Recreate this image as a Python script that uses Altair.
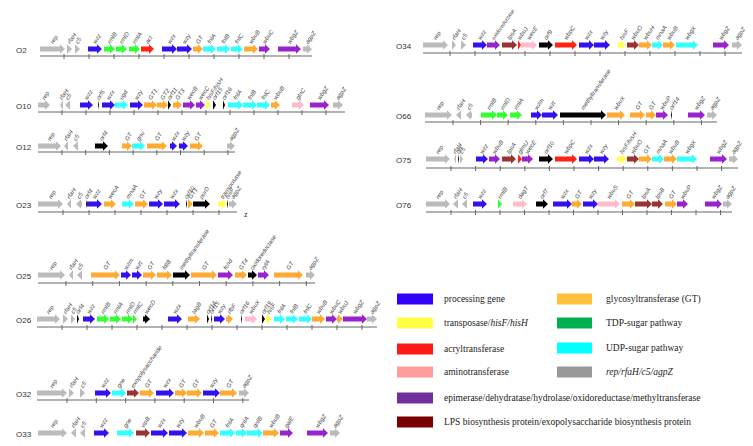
import altair as alt
import pandas as pd
import numpy as np

# ---- rows: name, arrow centre y, axis y, axis start, axis end, first tick, tick step
ROW_NAMES = ["O2", "O10", "O12", "O23", "O25", "O26", "O32", "O33", "O34", "O66", "O75", "O76"]
ROW_Y = [49, 105, 146, 204, 275, 319, 393, 433, 45, 115, 159, 204]
AXIS_Y = [56, 112, 152, 212, 283, 327, 400, 441, 53, 122, 168, 212]
AXIS_X0 = [40, 38, 38, 38, 38, 37, 37, 38, 423, 425, 426, 426]
AXIS_X1 = [312, 345, 235, 237, 315, 377, 249, 340, 742, 717, 738, 732]
TICK0 = [64, 62, 62, 63, 66, 62, 67, 67, 450, 453, 451, 451]
TICK_STEP = [25, 24, 23.7, 26, 26.7, 25, 29.3, 28.3, 25, 27.6, 24.6, 24.5]

# ---- genes: (start, end, strand, category, name)
GENES_O2 = [(40, 65, 1, "S", "rep"), (67, 72, 1, "S", "rfaH"), (75, 80, 1, "S", "c5"),
            (88, 102, 1, "B", "wzz"), (104, 115, 1, "G", "rmlB"), (116, 127, 1, "G", "rmlD"),
            (129, 140, 1, "G", "rmlA"), (141, 154, 1, "R", "act"), (162, 177, 1, "B", "wzx"),
            (177, 192, 1, "B", "wzy"), (193, 203, 1, "O", "GT"), (203, 216, 1, "C", "fnlA"),
            (217, 230, 1, "C", "fnlB"), (231, 243, 1, "C", "fnlC"), (244, 258, 1, "O", "wbuB"),
            (259, 270, 1, "P", "wbuC"), (278, 301, 1, "P", "wbgZ"), (303, 312, 1, "S", "agpZ")]
GENES_O10 = [(38, 50, 1, "S", "rep"), (60, 63, -1, "S", "rfaH"), (65, 70, -1, "S", "c5"),
             (80, 93, 1, "B", "wzz"), (98, 99, 1, "K", "orf5"), (102, 115, 1, "B", "wzx"),
             (115, 128, 1, "C", "ugd"), (130, 143, 1, "B", "wzy"), (144, 157, 1, "O", "GT1"),
             (157, 168, 1, "O", "GT2"), (168, 171, 1, "K", "orf11"), (173, 182, 1, "O", "GT3"),
             (183, 195, 1, "P", "wecB"), (196, 205, 1, "P", "wecC"), (206, 211, 1, "Y", "hisF/hisH"),
             (213, 216, 1, "K", "orf15"), (223, 225, 1, "K", "orf16"), (228, 243, 1, "C", "fnlA"),
             (243, 257, 1, "C", "fnlB"), (257, 270, 1, "C", "fnlC"), (271, 280, 1, "O", "wbuB"),
             (292, 304, 1, "N", "glnC"), (310, 329, 1, "P", "wbgZ"), (333, 343, 1, "S", "agpZ")]
GENES_O12 = [(38, 61, 1, "S", "rep"), (64, 68, -1, "S", "rfaH"), (73, 78, -1, "S", "c5"),
             (95, 108, 1, "K", "orf4"), (122, 132, 1, "O", "GT"), (132, 145, 1, "C", "gnu"),
             (147, 167, 1, "O", "GT"), (170, 177, 1, "B", "wzx"), (179, 188, 1, "B", "wzy"),
             (190, 203, 1, "O", "GT"), (227, 235, 1, "S", "agpZ")]
GENES_O23 = [(38, 63, 1, "S", "rep"), (67, 71, -1, "S", "rfaH"), (76, 82, -1, "S", "c5"),
             (86, 87, 1, "K", "orf4"), (87, 102, 1, "B", "wzz"), (104, 116, 1, "O", "wecA"),
             (122, 134, 1, "C", "mnaA"), (135, 148, 1, "O", "GT"), (149, 163, 1, "B", "wzy"),
             (164, 180, 1, "B", "wzx"), (186, 187, 1, "K", "orf10"), (188, 193, 1, "O", "GT1"),
             (193, 210, 1, "K", "purD"), (218, 227, 1, "Y", "transposase"), (227, 228, 1, "K", "hisF"),
             (229, 237, 1, "S", "agpZ")]
GENES_O25 = [(38, 65, 1, "S", "rep"), (69, 73, -1, "S", "rfaH"), (77, 82, -1, "S", "c5"),
             (91, 120, 1, "O", "GT"), (121, 131, 1, "B", "wzm"), (132, 142, 1, "B", "wzt"),
             (143, 156, 1, "O", "GT"), (157, 172, 1, "O", "fdtB"), (173, 190, 1, "K", "methyltransferase"),
             (191, 217, 1, "O", "GT"), (218, 233, 1, "P", "fcnd"), (235, 247, 1, "O", "GT4"),
             (248, 257, 1, "K", "oxidoreductase"), (258, 269, 1, "P", "rylA"), (274, 303, 1, "O", "GT"),
             (306, 315, 1, "S", "agpZ")]
GENES_O26 = [(37, 60, 1, "S", "rep"), (63, 68, 1, "S", "rfaH"), (71, 75, 1, "S", "c5"),
             (77, 79, 1, "K", "orf4"), (83, 95, 1, "B", "wzz"), (97, 109, 1, "G", "rmlB"),
             (110, 121, 1, "G", "rmlA"), (122, 133, 1, "G", "rmlD"), (133, 137, 1, "G", "rmlC"),
             (143, 150, 1, "K", "wecD"), (168, 182, 1, "B", "wzx"), (188, 200, 1, "O", "tagB"),
             (207, 209, 1, "K", "orf14"), (211, 212, 1, "K", "orf15"), (214, 225, 1, "B", "wzy"),
             (226, 233, 1, "O", "rfbF"), (241, 242, 1, "K", "orf16"), (245, 257, 1, "N", "wbuX"),
             (262, 265, 1, "K", "orf19"), (266, 272, 1, "Y", "hisF"), (274, 285, 1, "C", "fnlA"),
             (286, 298, 1, "C", "fnlB"), (299, 312, 1, "C", "fnlC"), (312, 325, 1, "O", "wbuB"),
             (326, 337, 1, "P", "wbuC"), (337, 343, 1, "O", "wbuJ"), (343, 367, 1, "P", "wbgZ"),
             (367, 377, 1, "S", "agpZ")]
GENES_O32 = [(37, 67, 1, "S", "rep"), (69, 74, 1, "S", "rfaH"), (80, 85, 1, "S", "c5"),
             (95, 111, 1, "B", "wzz"), (112, 126, 1, "C", "gne"), (127, 139, 1, "W", "exopolysaccharide"),
             (140, 154, 1, "O", "GT"), (156, 174, 1, "B", "wzx"), (175, 187, 1, "O", "GT"),
             (187, 202, 1, "O", "GT"), (203, 220, 1, "B", "wzy"), (220, 237, 1, "O", "GT"),
             (239, 249, 1, "S", "agpZ")]
GENES_O33 = [(38, 67, 1, "S", "rep"), (71, 76, -1, "S", "rfaH"), (80, 85, -1, "S", "c5"),
             (94, 109, 1, "B", "wzz"), (117, 134, 1, "C", "gne"), (136, 150, 1, "W", "vipB"),
             (151, 168, 1, "B", "wzx"), (169, 187, 1, "B", "wzy"), (188, 204, 1, "O", "wbuB"),
             (205, 219, 1, "O", "GT"), (220, 235, 1, "C", "fnlA"), (236, 247, 1, "C", "qnlA"),
             (247, 263, 1, "C", "qnlB"), (263, 279, 1, "O", "wbuB"), (280, 293, 1, "P", "galE"),
             (307, 328, 1, "P", "wbgZ"), (330, 340, 1, "S", "agpZ")]
GENES_O34 = [(423, 448, 1, "S", "rep"), (452, 456, 1, "S", "rfaH"), (461, 466, 1, "S", "c5"),
             (473, 487, 1, "B", "wzz"), (487, 500, 1, "P", "oxidoreductase"), (502, 517, 1, "W", "lpsA"),
             (518, 521, 1, "R", "wbuJ"), (521, 537, 1, "N", "wecE"), (539, 553, 1, "K", "orf9"),
             (555, 577, 1, "R", "wbpC"), (579, 594, 1, "B", "wzx"), (594, 610, 1, "B", "wzy"),
             (618, 626, 1, "Y", "hisF"), (627, 639, 1, "W", "wbuO"), (639, 652, 1, "O", "wbuH"),
             (652, 663, 1, "C", "mnaA"), (663, 675, 1, "O", "wbuB"), (676, 698, 1, "C", "wbgX"),
             (713, 729, 1, "P", "wbgZ"), (732, 742, 1, "S", "agpZ")]
GENES_O66 = [(425, 452, 1, "S", "rep"), (456, 461, -1, "S", "rfaH"), (466, 472, -1, "S", "c5"),
             (481, 497, 1, "G", "rmlB"), (497, 508, 1, "G", "rmlD"), (510, 522, 1, "G", "rmlA"),
             (531, 542, 1, "B", "wzm"), (542, 558, 1, "B", "wzt"), (560, 606, 1, "K", "methyltransferase"),
             (607, 625, 1, "O", "wbuX"), (630, 645, 1, "O", "GT"), (646, 656, 1, "O", "GT"),
             (656, 668, 1, "P", "wbuP"), (671, 672, 1, "K", "orf14"), (688, 705, 1, "P", "wbgZ"),
             (707, 717, 1, "S", "agpZ")]
GENES_O75 = [(426, 450, 1, "S", "rep"), (454, 456, -1, "S", "rfaH"), (458, 459, 1, "K", "orf"),
             (460, 463, 1, "S", "c5"), (476, 488, 1, "B", "wzz"), (489, 500, 1, "P", "wbuB"),
             (502, 516, 1, "W", "lpsA"), (518, 522, 1, "R", "glmU"), (522, 533, 1, "P", "wecE"),
             (539, 553, 1, "K", "orf10"), (555, 577, 1, "R", "wbpC"), (579, 594, 1, "B", "wzx"),
             (594, 609, 1, "B", "wzy"), (617, 627, 1, "Y", "hisF/hisH"), (627, 639, 1, "W", "wbuO"),
             (639, 652, 1, "O", "GT"), (652, 664, 1, "C", "mnaA"), (664, 677, 1, "O", "wbuB"),
             (677, 697, 1, "C", "wbgX"), (710, 727, 1, "P", "wbgZ"), (729, 738, 1, "S", "agpZ")]
GENES_O76 = [(426, 450, 1, "S", "rep"), (453, 458, -1, "S", "rfaH"), (462, 467, -1, "S", "c5"),
             (473, 487, 1, "B", "wzz"), (498, 502, 1, "G", "rmlB"), (513, 527, 1, "N", "dagT"),
             (536, 548, 1, "K", "orf7"), (553, 572, 1, "B", "wzx"), (572, 582, 1, "O", "GT"),
             (583, 598, 1, "B", "wzy"), (598, 620, 1, "N", "wbuS"), (622, 635, 1, "O", "GT"),
             (635, 652, 1, "W", "lpsA"), (652, 663, 1, "W", "lpsB"), (665, 677, 1, "O", "GT"),
             (677, 688, 1, "P", "wbuP"), (705, 722, 1, "P", "wbgZ"), (723, 732, 1, "S", "agpZ")]

ALL_GENES = [GENES_O2, GENES_O10, GENES_O12, GENES_O23, GENES_O25, GENES_O26, GENES_O32,
             GENES_O33, GENES_O34, GENES_O66, GENES_O75, GENES_O76]

ARROW_COLORS = {"B": "#3311ee", "G": "#33ff33", "R": "#ff2211", "O": "#ffaa33", "C": "#33ffff",
                "P": "#9922cc", "K": "#000000", "W": "#993333", "N": "#ffbbcc", "Y": "#ffff55",
                "S": "#bbbbbb"}

# ---- legend
LEG_LEFT = ["processing gene", "transposase/", "acryltransferase", "aminotransferase",
            "epimerase/dehydratase/hydrolase/oxidoreductase/methyltransferase",
            "LPS biosynthesis protein/exopolysaccharide biosynthesis protein"]
LEG_LEFT_COLORS = ["#3300ff", "#ffff44", "#ff1a1a", "#ff9c9c", "#7030a0", "#7a0000"]
LEG_RIGHT = ["glycosyltransferase (GT)", "TDP-sugar pathway", "UDP-sugar pathway", "rep/rfaH/c5/agpZ"]
LEG_RIGHT_COLORS = ["#ffc13b", "#00b050", "#00ffff", "#999999"]
LEG_LEFT_Y = [299, 323, 349, 372, 398, 422]
LEG_RIGHT_Y = [299, 323, 348, 372]

# ---------------- build tables ----------------
poly = []
labels = []
for ri, genes in enumerate(ALL_GENES):
    yc = ROW_Y[ri]
    for gi, (s, e, strand, cat, name) in enumerate(genes):
        gid = "g%d_%d" % (ri, gi)
        L = e - s
        h = min(5.0, L)
        sh, hh = 2.4, 4.8
        col = ARROW_COLORS[cat]
        if strand > 0:
            pts = []
            if L > h:
                pts += [(s, -sh, sh), (e - h, -sh, sh)]
                pts += [(e - h + 0.001, -hh, hh), (e, 0, 0)]
            else:
                pts += [(s, -hh, hh), (e, 0, 0)]
        else:
            pts = [(s, 0, 0), (s + h, -hh, hh)]
            if L > h:
                pts += [(s + h + 0.001, -sh, sh), (e, -sh, sh)]
        for (x, a, b) in pts:
            poly.append({"gid": gid, "px": float(x), "lo": float(yc + a), "hi": float(yc + b), "fill": col})
        labels.append({"px": float((s + e) / 2 - 1), "py": float(yc - 6), "label": name,
                       "fs": 5.3 if (len(name) > 12 and yc < 60) else 6.0})

poly_df = pd.DataFrame(poly)
lab_df = pd.DataFrame(labels)

axis_rows = []
tick_rows = []
name_rows = []
for ri, nm in enumerate(ROW_NAMES):
    axis_rows.append({"ax0": float(AXIS_X0[ri]), "ax1": float(AXIS_X1[ri]), "ay": float(AXIS_Y[ri])})
    for t in np.arange(TICK0[ri], AXIS_X1[ri] - 3, TICK_STEP[ri]):
        tick_rows.append({"tx": float(t), "ty0": float(AXIS_Y[ri] - 2), "ty1": float(AXIS_Y[ri] + 3)})
    name_rows.append({"px": 16.0 if AXIS_X0[ri] < 200 else 396.0, "py": float(ROW_Y[ri] + 2), "label": nm})
axis_df = pd.DataFrame(axis_rows)
tick_df = pd.DataFrame(tick_rows)
name_df = pd.DataFrame(name_rows)

leg = []
for i, (t, c) in enumerate(zip(LEG_LEFT, LEG_LEFT_COLORS)):
    leg.append({"bx0": 397.0, "bx1": 433.0, "by0": LEG_LEFT_Y[i] - 5.5, "by1": LEG_LEFT_Y[i] + 5.5,
                "px": 444.0, "py": float(LEG_LEFT_Y[i]), "label": t, "fill": c})
for i, (t, c) in enumerate(zip(LEG_RIGHT, LEG_RIGHT_COLORS)):
    leg.append({"bx0": 557.0, "bx1": 592.0, "by0": LEG_RIGHT_Y[i] - 5.5, "by1": LEG_RIGHT_Y[i] + 5.5,
                "px": 606.0, "py": float(LEG_RIGHT_Y[i]), "label": t, "fill": c})
leg_df = pd.DataFrame(leg)
leg_normal_df = leg_df[~leg_df["label"].str.startswith("rep")].reset_index(drop=True)
leg_italic_df = pd.DataFrame(
    [{"px": 606.0, "py": float(LEG_RIGHT_Y[3]), "label": LEG_RIGHT[3]},
     {"px": 444.0 + 46.4, "py": float(LEG_LEFT_Y[1]), "label": "hisF/hisH"}])
z_df = pd.DataFrame([{"px": 244.0, "py": 215.0, "label": "z"}])

XS = alt.Scale(domain=[8, 745], nice=False, zero=False)
YS = alt.Scale(domain=[8, 438], nice=False, zero=False, reverse=True)

arrows = alt.Chart(poly_df).mark_area(orient="vertical", interpolate="linear").encode(
    x=alt.X("px:Q", scale=XS, axis=None),
    y=alt.Y("lo:Q", scale=YS, axis=None, stack=None),
    y2="hi:Q",
    detail="gid:N",
    color=alt.Color("fill:N", scale=None),
)

axis_lines = alt.Chart(axis_df).mark_rule(color="#666666", strokeWidth=1).encode(
    x=alt.X("ax0:Q", scale=XS, axis=None), x2="ax1:Q", y=alt.Y("ay:Q", scale=YS, axis=None))
ticks = alt.Chart(tick_df).mark_rule(color="#666666", strokeWidth=1).encode(
    x=alt.X("tx:Q", scale=XS, axis=None), y=alt.Y("ty0:Q", scale=YS, axis=None), y2="ty1:Q")

gene_labels = alt.Chart(lab_df).mark_text(
    angle=305, align="left", baseline="middle", font="Liberation Sans",
    fontStyle="italic", color="#444444").encode(
    x=alt.X("px:Q", scale=XS, axis=None), y=alt.Y("py:Q", scale=YS, axis=None), text="label:N",
    size=alt.Size("fs:Q", scale=None))

row_names = alt.Chart(name_df).mark_text(
    align="left", baseline="middle", fontSize=8, font="Liberation Sans", color="#333333").encode(
    x=alt.X("px:Q", scale=XS, axis=None), y=alt.Y("py:Q", scale=YS, axis=None), text="label:N")

z_text = alt.Chart(z_df).mark_text(align="left", baseline="middle", fontSize=7,
                                    font="Liberation Sans", color="#333333").encode(
    x=alt.X("px:Q", scale=XS, axis=None), y=alt.Y("py:Q", scale=YS, axis=None), text="label:N")

leg_boxes = alt.Chart(leg_df).mark_rect().encode(
    x=alt.X("bx0:Q", scale=XS, axis=None), x2="bx1:Q",
    y=alt.Y("by0:Q", scale=YS, axis=None), y2="by1:Q",
    color=alt.Color("fill:N", scale=None))
leg_text = alt.Chart(leg_normal_df).mark_text(
    align="left", baseline="middle", fontSize=9.5, font="Liberation Serif", color="#222222").encode(
    x=alt.X("px:Q", scale=XS, axis=None), y=alt.Y("py:Q", scale=YS, axis=None), text="label:N")
leg_text2 = alt.Chart(leg_italic_df).mark_text(
    align="left", baseline="middle", fontSize=9.5, font="Liberation Serif", fontStyle="italic",
    color="#222222").encode(
    x=alt.X("px:Q", scale=XS, axis=None), y=alt.Y("py:Q", scale=YS, axis=None), text="label:N")

chart = alt.layer(axis_lines, ticks, arrows, gene_labels, row_names, z_text,
                  leg_boxes, leg_text, leg_text2).properties(
    width=737, height=430, padding=0, autosize="none", background="white"
).configure_view(strokeWidth=0)

chart.save("out.html", embed_options={"renderer": "svg", "actions": False})
